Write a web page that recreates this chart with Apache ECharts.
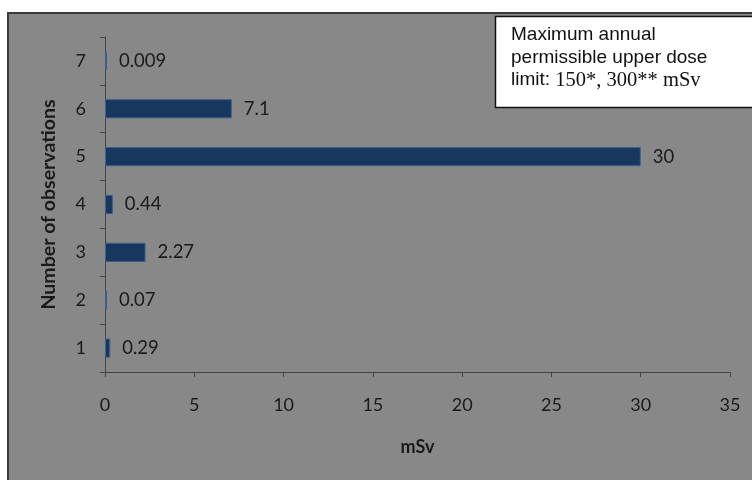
<!DOCTYPE html>
<html><head><meta charset="utf-8">
<script src="https://cdn.jsdelivr.net/npm/echarts@6/dist/echarts.min.js"></script>
<style>html,body{margin:0;padding:0;background:#fff}#c{width:752px;height:480px}</style>
</head><body><div id="c"></div>
<script>
const categories = ['1','2','3','4','5','6','7'];
const values = [0.29, 0.07, 2.27, 0.44, 30, 7.1, 0.009];
const xTicks = [0, 35, 5];
const yAxisName = 'Number of observations';
const xAxisName = 'mSv';

const chart = echarts.init(document.getElementById('c'));
const font = 'Lato, "Open Sans", sans-serif';
chart.setOption({
  backgroundColor: '#ffffff',
  animation: false,
  graphic: [
    { type: 'rect', z: -10, shape: { x: 8, y: 13, width: 760, height: 480 },
      style: { fill: '#888888', stroke: '#3a3a3a', lineWidth: 2 } },
    { type: 'rect', z: 100, shape: { x: 495.5, y: 16.5, width: 262, height: 91 },
      style: { fill: '#ffffff', stroke: '#111111', lineWidth: 1.5 } },
    { type: 'text', z: 101, left: 511, top: 24,
      style: { text: 'Maximum annual\npermissible upper dose\n{a|limit: }{b|150*, 300** mSv}',
        font: '19px "Liberation Sans", Arial, sans-serif', fill: '#111', lineHeight: 22.5,
        rich: { a: { fontFamily: '"Liberation Sans", Arial, sans-serif', fontSize: 19, fill: '#111', lineHeight: 22.5 },
                b: { fontFamily: '"Liberation Serif", "Times New Roman", serif', fontSize: 20.5, fill: '#111', lineHeight: 22.5 } } } }
  ],
  grid: { left: 105, right: 22, top: 37, bottom: 108, containLabel: false },
  xAxis: {
    type: 'value', min: xTicks[0], max: xTicks[1], interval: xTicks[2],
    name: xAxisName, nameLocation: 'middle', nameGap: 66,
    nameTextStyle: { fontFamily: font, fontWeight: 'bold', fontSize: 18, color: '#1a1a1a' },
    axisLine: { show: true, lineStyle: { color: '#444', width: 1 } },
    axisTick: { show: true, length: 5, lineStyle: { color: '#444' } },
    axisLabel: { margin: 24, fontFamily: font, fontSize: 18, color: '#1a1a1a' },
    splitLine: { show: false }
  },
  yAxis: {
    type: 'category', data: categories,
    name: yAxisName, nameLocation: 'middle', nameGap: 46, nameRotate: 90,
    nameTextStyle: { fontFamily: font, fontWeight: 'bold', fontSize: 19.5, color: '#1a1a1a' },
    axisLine: { show: true, lineStyle: { color: '#444', width: 1 } },
    axisTick: { show: true, length: 5, alignWithLabel: false, lineStyle: { color: '#444' } },
    axisLabel: { margin: 19, fontFamily: font, fontSize: 18, color: '#1a1a1a' }
  },
  series: [{
    type: 'bar', data: values, barCategoryGap: '60%', barMinHeight: 2,
    itemStyle: { color: '#17375e', borderColor: '#3d5f88', borderWidth: 1 },
    label: { show: true, position: 'right', distance: 12, fontFamily: font, fontSize: 18.5, color: '#1a1a1a',
      formatter: p => String(values[p.dataIndex]) }
  }]
});
</script></body></html>
